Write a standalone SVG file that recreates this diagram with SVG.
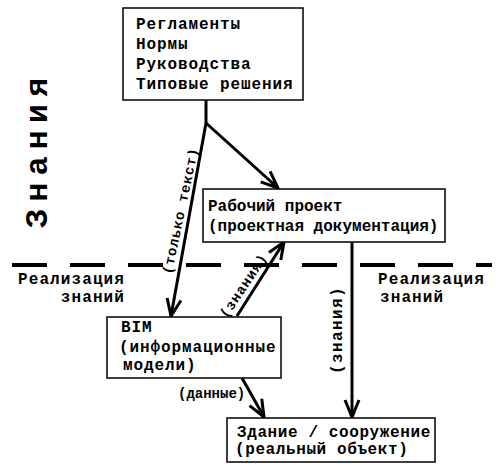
<svg xmlns="http://www.w3.org/2000/svg" width="500" height="473" viewBox="0 0 500 473">
<style>
.box{fill:#fff;stroke:#000;stroke-width:1.5}
text{font-family:"Liberation Mono","Courier New",monospace;font-weight:bold;fill:#000}
.t{font-size:16px}
.s{font-size:14px}
.c{stroke:#000;stroke-width:3;fill:none}
</style>
<defs>
<marker id="ah" markerUnits="userSpaceOnUse" viewBox="-20 -10 24 20" markerWidth="24" markerHeight="20" refX="0" refY="0" orient="auto">
<path d="M-17,-7 L0,0 L-17,7" fill="none" stroke="#000" stroke-width="3"/>
</marker>
</defs>
<rect width="500" height="473" fill="#fff"/>
<g id="divider">
<line x1="12" y1="265" x2="492" y2="265" stroke="#000" stroke-width="4" stroke-dasharray="35 23"/>
</g>
<text x="47" y="228" font-size="32" letter-spacing="7" transform="rotate(-90 47 228)">Знания</text>
<g id="label-left">
<text class="t" x="125" y="284" text-anchor="end" letter-spacing="1.1">Реализация</text>
<text class="t" x="125" y="302" text-anchor="end" letter-spacing="1.1">знаний</text>
</g>
<g id="label-right">
<text class="t" x="378" y="284" letter-spacing="1.1">Реализация</text>
<text class="t" x="380" y="302" letter-spacing="1.1">знаний</text>
</g>
<g id="connectors">
<line class="c" x1="206" y1="100" x2="206" y2="123"/>
<line class="c" x1="206" y1="123" x2="278" y2="188" marker-end="url(#ah)"/>
<line class="c" x1="206" y1="123" x2="171" y2="316" marker-end="url(#ah)"/>
<line class="c" x1="237" y1="316" x2="284" y2="242" marker-end="url(#ah)"/>
<line class="c" x1="352" y1="242" x2="352" y2="417" marker-end="url(#ah)"/>
<line class="c" x1="242" y1="378" x2="264" y2="417" marker-end="url(#ah)"/>
<text class="s" x="181" y="211" text-anchor="middle" letter-spacing="0.8" transform="rotate(-78 181 211) translate(0 4)">(только текст)</text>
<text class="s" x="244" y="286" text-anchor="middle" letter-spacing="0.8" transform="rotate(-56 244 286) translate(0 4)">(знания)</text>
<text class="t" x="337" y="330" text-anchor="middle" letter-spacing="1.4" transform="rotate(-90 337 330) translate(0 5)">(знания)</text>
<text class="s" x="178" y="398">(данные)</text>
</g>
<g id="node-norms">
<rect class="box" x="123" y="8" width="180" height="92"/>
<text class="t" x="136" y="29" letter-spacing="0.9">Регламенты</text>
<text class="t" x="136" y="49" letter-spacing="0.9">Нормы</text>
<text class="t" x="136" y="69" letter-spacing="0.9">Руководства</text>
<text class="t" x="136" y="89" letter-spacing="0.9">Типовые решения</text>
</g>
<g id="node-project">
<rect class="box" x="203" y="189" width="242" height="53"/>
<text class="t" x="208" y="211">Рабочий проект</text>
<text class="t" x="208" y="231">(проектная документация)</text>
</g>
<g id="node-bim">
<rect class="box" x="107" y="317" width="174" height="61"/>
<text class="t" x="121" y="332" letter-spacing="0.9">BIM</text>
<text class="t" x="119" y="352" letter-spacing="0.9">(информационные</text>
<text class="t" x="123" y="370" letter-spacing="0.9">модели)</text>
</g>
<g id="node-building">
<rect class="box" x="227" y="418" width="208" height="44"/>
<text class="t" x="237" y="437" letter-spacing="0.6">Здание / сооружение</text>
<text class="t" x="235" y="454" letter-spacing="0.6">(реальный объект)</text>
</g>
</svg>
